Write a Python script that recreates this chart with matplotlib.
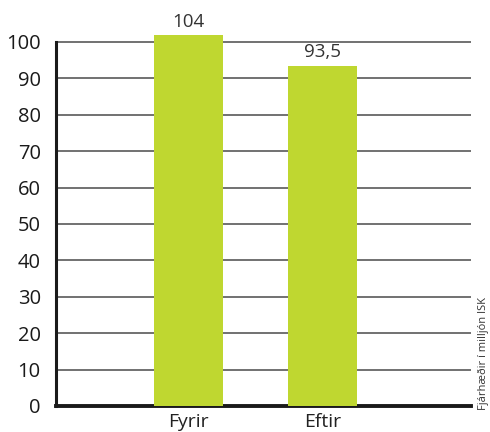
import matplotlib
matplotlib.use("Agg")
import matplotlib.pyplot as plt

# data
categories = ["Fyrir", "Eftir"]
values = [104, 93.5]
value_labels = ["104", "93,5"]
yticks = [0, 10, 20, 30, 40, 50, 60, 70, 80, 90, 100]

plt.rcParams["font.family"] = ["Open Sans", "DejaVu Sans"]

fig = plt.figure(figsize=(4.9, 4.32), dpi=100)
ax = fig.add_axes([0.1143, 0.0602, 0.8467, 0.8595])

x = list(range(len(categories)))
ax.bar(x, values, width=0.515, color="#bfd730", zorder=3)

ax.set_ylim(0, 102)
ax.set_xlim(-0.989, 2.108)
ax.set_yticks(yticks)
ax.set_xticks(x)
ax.set_xticklabels(categories)

for v in yticks[1:]:
    ax.axhline(v, color="#666666", lw=1.3, zorder=1)

# value labels (first bar runs past the top of the axis)
for xi, v, lab in zip(x, values, value_labels):
    y = min(v, 102)
    ax.annotate(lab, (xi, y), xytext=(0, 3), textcoords="offset points",
                ha="center", va="bottom", fontsize=13.5, color="#333333",
                annotation_clip=False)

for s in ["top", "right"]:
    ax.spines[s].set_visible(False)
ax.spines["left"].set_bounds(0, 100)
ax.spines["left"].set_linewidth(2.2)
ax.spines["bottom"].set_linewidth(2.8)
ax.spines["left"].set_color("#1a1a1a")
ax.spines["bottom"].set_color("#1a1a1a")

ax.tick_params(axis="y", length=0, pad=11, labelsize=14.5, labelcolor="#1a1a1a")
ax.tick_params(axis="x", length=0, pad=5, labelsize=14, labelcolor="#222222")

fig.text(0.986, 0.05, "Fjárhæðir í milljón ISK", rotation=90, ha="center",
         va="bottom", fontsize=8, color="#333333")

fig.savefig("out.png", dpi=100)
